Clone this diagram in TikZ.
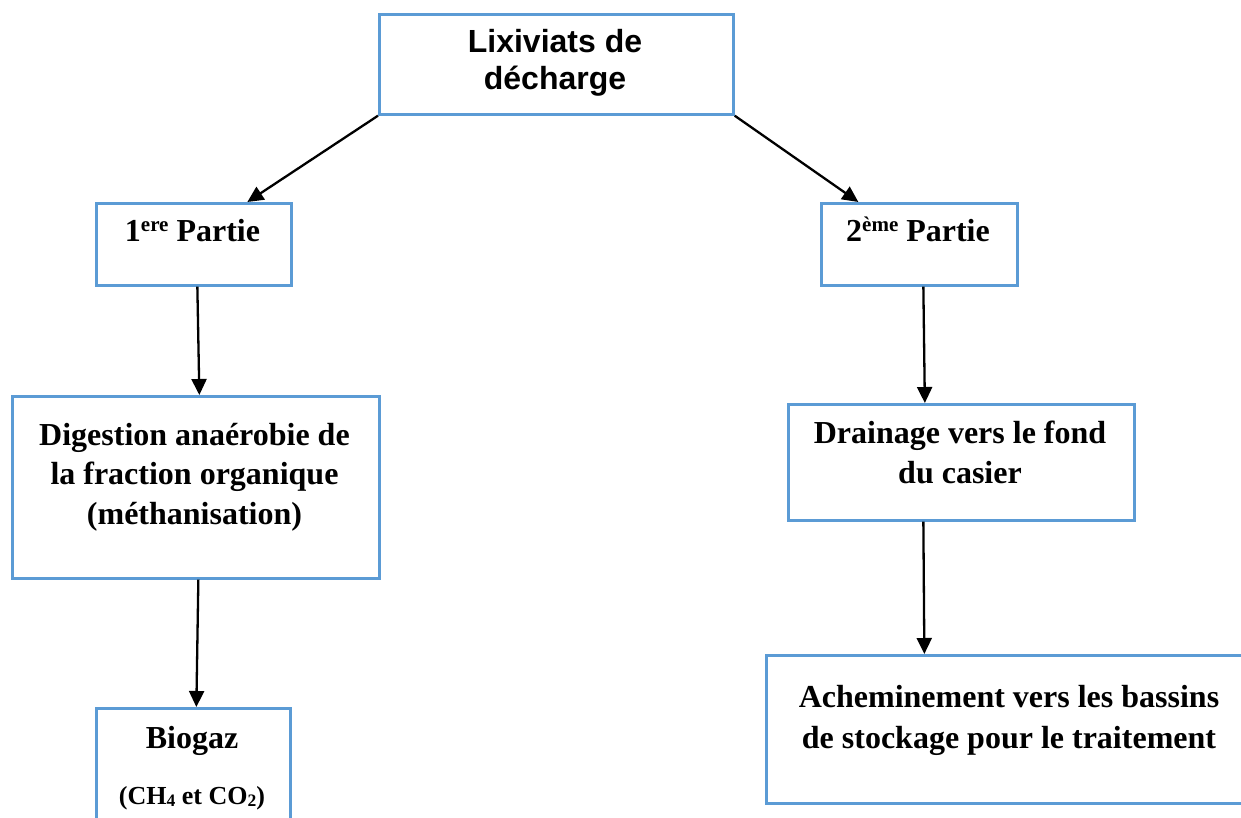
\documentclass[tikz,border=0pt]{standalone}
\usepackage{fontspec}
\setmainfont{Liberation Serif}
\newfontfamily\arialf{Liberation Sans}
\usetikzlibrary{arrows.meta,calc}
\definecolor{boxblue}{RGB}{91,155,213}
\tikzset{
  boxnode/.style={draw=boxblue, line width=2.7pt, inner sep=0pt, anchor=north west},
  lbl/.style={anchor=base, inner sep=0pt, font=\bfseries\fontsize{32}{39.5}\selectfont, align=center},
  toplbl/.style={anchor=base, inner sep=0pt, font=\arialf\bfseries\fontsize{32}{37.5}\selectfont, align=center},
  conn/.style={line width=2.3pt, -{Triangle[length=16pt,width=15pt]}}
}
\newcommand{\supx}[1]{\raisebox{10pt}{\fontsize{21}{21}\selectfont #1}}
\newcommand{\subx}[1]{\raisebox{-2pt}{\fontsize{17.5}{17.5}\selectfont #1}}
\begin{document}
\begin{tikzpicture}[x=1pt,y=-1pt]
\useasboundingbox (0,0) rectangle (1241,818);
% boxes
\node[boxnode, minimum width=354pt, minimum height=100pt] (top) at (378,13) {};
\node[boxnode, minimum width=195pt, minimum height=82pt] (p1) at (95,202) {};
\node[boxnode, minimum width=196pt, minimum height=82pt] (p2) at (820,202) {};
\node[boxnode, minimum width=367pt, minimum height=182pt] (dig) at (11,395) {};
\node[boxnode, minimum width=346pt, minimum height=116pt] (dra) at (787,403) {};
\node[boxnode, minimum width=194pt, minimum height=140pt] (bio) at (95,707) {};
\node[boxnode, minimum width=488pt, minimum height=148pt] (ach) at (765,654) {};
% texts (base = baseline of last line)
\node[toplbl] (ttop) at (555,90) {Lixiviats de\\décharge};
\node[lbl] (tp1) at (192.5,242) {1\supx{ere} Partie};
\node[lbl] (tp2) at (918,242) {2\supx{ème} Partie};
\node[lbl] (tdig) at (194.5,524) {Digestion anaérobie de\\la fraction organique\\(méthanisation)};
\node[lbl] (tdra) at (960,483) {Drainage vers le fond\\du casier};
\node[lbl] (tbio) at (192,748) {Biogaz};
\node[lbl, font=\bfseries\fontsize{26}{30}\selectfont] (tgas) at (192,804) {(CH\subx{4} et CO\subx{2})};
\node[lbl, font=\bfseries\fontsize{32}{41}\selectfont] (tach) at (1009,748) {Acheminement vers les bassins\\de stockage pour le traitement};
% connectors
\draw[conn] (top.south west) -- ([xshift=53.5pt]p1.north);
\draw[conn] (top.south east) -- ([xshift=-61pt]p2.north);
\draw[conn] ([xshift=3.5pt]p1.south) -- ([xshift=3.5pt]dig.north);
\draw[conn] ([xshift=4pt]p2.south) -- ([xshift=-36.5pt]dra.north);
\draw[conn] ([xshift=2.5pt]dig.south) -- ([xshift=3pt]bio.north);
\draw[conn] ([xshift=-38pt]dra.south) -- ([xshift=-86pt]ach.north);
\end{tikzpicture}
\end{document}
